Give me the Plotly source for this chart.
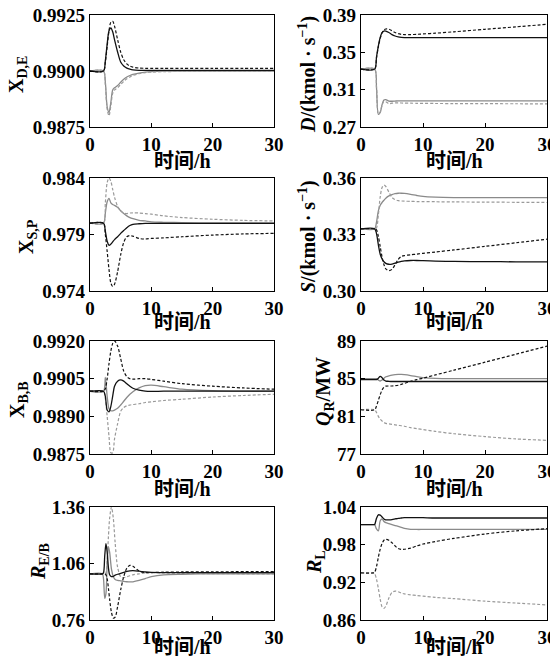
import plotly.graph_objects as go
from plotly.subplots import make_subplots

# ---------------- data ----------------
T = [0, 2.2, 2.5, 2.8, 3.1, 3.4, 3.7, 4.0, 4.5, 5.0, 5.5, 6.0, 6.5, 7.0, 8, 9, 10, 12, 15, 20, 25, 30]

XDE_black_solid = [0.9900, 0.9900, 0.99045, 0.99120, 0.99180, 0.99192, 0.99175, 0.99140, 0.99085, 0.99040, 0.99022, 0.99013, 0.99008, 0.99005, 0.99003, 0.99003, 0.99003, 0.99003, 0.99003, 0.99003, 0.99003, 0.99003]
XDE_black_dash = [0.9900, 0.9900, 0.99040, 0.99110, 0.99180, 0.99218, 0.99222, 0.99200, 0.99140, 0.99085, 0.99050, 0.99032, 0.99022, 0.99017, 0.99013, 0.99012, 0.99012, 0.99012, 0.99012, 0.99012, 0.99012, 0.99012]
XDE_gray_solid = [0.9900, 0.9900, 0.98950, 0.98840, 0.98815, 0.98860, 0.98915, 0.98925, 0.98935, 0.98950, 0.98963, 0.98973, 0.98980, 0.98985, 0.98991, 0.98995, 0.98997, 0.98999, 0.99000, 0.99000, 0.99000, 0.99000]
XDE_gray_dash = [0.9900, 0.9900, 0.98940, 0.98830, 0.98800, 0.98845, 0.98900, 0.98915, 0.98925, 0.98940, 0.98953, 0.98965, 0.98973, 0.98980, 0.98988, 0.98993, 0.98995, 0.98997, 0.98998, 0.98998, 0.98998, 0.98998]

D_black_solid = [0.332, 0.332, 0.345, 0.357, 0.366, 0.371, 0.3728, 0.3728, 0.3712, 0.3690, 0.3675, 0.3665, 0.3660, 0.3658, 0.3657, 0.3657, 0.3657, 0.3657, 0.3657, 0.3657, 0.3657, 0.3657]
D_black_dash = [0.332, 0.332, 0.344, 0.356, 0.365, 0.371, 0.374, 0.375, 0.3748, 0.3730, 0.3712, 0.3700, 0.3693, 0.3690, 0.3690, 0.3693, 0.3697, 0.3705, 0.3720, 0.3747, 0.3773, 0.3800]
D_gray_solid = [0.332, 0.332, 0.312, 0.2835, 0.2855, 0.294, 0.299, 0.2993, 0.2978, 0.2976, 0.2978, 0.2980, 0.2980, 0.2980, 0.2980, 0.2980, 0.2980, 0.2980, 0.2980, 0.2980, 0.2980, 0.2980]
D_gray_dash = [0.332, 0.332, 0.313, 0.2840, 0.2860, 0.2935, 0.2975, 0.2970, 0.2950, 0.2955, 0.2958, 0.2958, 0.2957, 0.2956, 0.2955, 0.2954, 0.2953, 0.2952, 0.2951, 0.2950, 0.2949, 0.2948]

XSP_black_solid = [0.9800, 0.9800, 0.9793, 0.9784, 0.97805, 0.97815, 0.97835, 0.97855, 0.9788, 0.9791, 0.97935, 0.9796, 0.9798, 0.9799, 0.97995, 0.97998, 0.97998, 0.97998, 0.97998, 0.97998, 0.97998, 0.97998]
XSP_black_dash = [0.9800, 0.9800, 0.9790, 0.9775, 0.9759, 0.9747, 0.9744, 0.9746, 0.9757, 0.9772, 0.9783, 0.9788, 0.9789, 0.97885, 0.97865, 0.9786, 0.97865, 0.9787, 0.9788, 0.97895, 0.97905, 0.9791]
XSP_gray_solid = [0.9800, 0.9800, 0.9809, 0.9819, 0.9822, 0.9818, 0.98165, 0.98158, 0.9814, 0.9811, 0.98085, 0.98065, 0.9805, 0.9804, 0.98025, 0.9802, 0.98012, 0.98008, 0.98005, 0.98003, 0.98002, 0.98002]
XSP_gray_dash = [0.9800, 0.9800, 0.9818, 0.9836, 0.9840, 0.9837, 0.9830, 0.9823, 0.9815, 0.9811, 0.9809, 0.98085, 0.9809, 0.98092, 0.9809, 0.98085, 0.9808, 0.98065, 0.9805, 0.98035, 0.98025, 0.9802]

S_black_solid = [0.333, 0.333, 0.3305, 0.3245, 0.3195, 0.3170, 0.3155, 0.3147, 0.3142, 0.3143, 0.3148, 0.3153, 0.3157, 0.3160, 0.3162, 0.3162, 0.3161, 0.3159, 0.3157, 0.3156, 0.3155, 0.3155]
S_black_dash = [0.333, 0.333, 0.3325, 0.3290, 0.3235, 0.3180, 0.3140, 0.3117, 0.3108, 0.3115, 0.3140, 0.3168, 0.3183, 0.3188, 0.3192, 0.3196, 0.3200, 0.3207, 0.3218, 0.3237, 0.3256, 0.3275]
S_gray_solid = [0.333, 0.333, 0.3365, 0.3425, 0.3455, 0.3470, 0.3482, 0.3493, 0.3505, 0.3512, 0.3517, 0.3519, 0.3519, 0.3518, 0.3513, 0.3507, 0.3502, 0.3498, 0.3496, 0.3496, 0.3496, 0.3496]
S_gray_dash = [0.333, 0.333, 0.3335, 0.3405, 0.3500, 0.3550, 0.3562, 0.3555, 0.3525, 0.3497, 0.3485, 0.3480, 0.3478, 0.3477, 0.3476, 0.3475, 0.3475, 0.3474, 0.3473, 0.3472, 0.3471, 0.3470]

XBB_black_solid = [0.9900, 0.9900, 0.9898, 0.98925, 0.98918, 0.9894, 0.9898, 0.9902, 0.99040, 0.99045, 0.99040, 0.99030, 0.99020, 0.99012, 0.99004, 0.99000, 0.98999, 0.99000, 0.99000, 0.99000, 0.99000, 0.99000]
XBB_black_dash = [0.9900, 0.9900, 0.9901, 0.9905, 0.9911, 0.9916, 0.9919, 0.9920, 0.9918, 0.9913, 0.9908, 0.99058, 0.99050, 0.99048, 0.99050, 0.99050, 0.99047, 0.99040, 0.99030, 0.99020, 0.99013, 0.99008]
XBB_gray_solid = [0.9900, 0.9900, 0.99055, 0.9898, 0.9893, 0.98922, 0.98922, 0.98925, 0.98932, 0.98945, 0.98960, 0.98975, 0.98988, 0.98998, 0.99013, 0.99022, 0.99024, 0.99018, 0.99008, 0.99002, 0.99000, 0.99000]
XBB_gray_dash = [0.9900, 0.9900, 0.9897, 0.9890, 0.9882, 0.98755, 0.98755, 0.9881, 0.9887, 0.9892, 0.98935, 0.98942, 0.98945, 0.98947, 0.98950, 0.98955, 0.98958, 0.98963, 0.98968, 0.98977, 0.98983, 0.98988]

QR_black_solid = [84.9, 84.9, 84.9, 85.05, 85.25, 85.1, 84.85, 84.75, 84.72, 84.70, 84.70, 84.70, 84.70, 84.70, 84.70, 84.70, 84.70, 84.70, 84.70, 84.70, 84.70, 84.70]
QR_black_dash = [81.7, 81.7, 82.1, 82.7, 83.3, 83.8, 84.1, 84.2, 84.22, 84.22, 84.25, 84.3, 84.4, 84.5, 84.72, 84.9, 85.05, 85.4, 85.9, 86.75, 87.6, 88.45]
QR_gray_solid = [85.0, 85.0, 85.0, 84.85, 84.75, 84.85, 85.05, 85.2, 85.3, 85.38, 85.43, 85.45, 85.45, 85.42, 85.33, 85.22, 85.12, 85.03, 85.0, 85.0, 85.0, 85.0]
QR_gray_dash = [81.7, 81.7, 81.4, 81.0, 80.7, 80.5, 80.35, 80.25, 80.2, 80.15, 80.1, 80.05, 80.0, 79.95, 79.8, 79.7, 79.6, 79.4, 79.15, 78.85, 78.6, 78.45]

T_REB = [0, 2.0, 2.2, 2.4, 2.6, 2.8, 3.0, 3.2, 3.5, 3.8, 4.1, 4.5, 5.0, 5.5, 6.0, 6.5, 7.0, 8.0, 9.0, 10, 12, 15, 20, 30]
REB_black_solid = [1.005, 1.005, 1.01, 1.10, 1.165, 1.12, 1.04, 1.00, 0.99, 0.992, 0.998, 1.003, 1.008, 1.013, 1.018, 1.021, 1.022, 1.019, 1.015, 1.013, 1.012, 1.012, 1.012, 1.012]
REB_black_dash = [1.005, 1.005, 1.005, 1.005, 1.0, 0.98, 0.93, 0.87, 0.80, 0.77, 0.775, 0.83, 0.92, 0.99, 1.035, 1.05, 1.045, 1.02, 1.012, 1.012, 1.014, 1.015, 1.016, 1.017]
REB_gray_solid = [1.005, 1.005, 0.98, 0.875, 0.90, 1.06, 1.15, 1.12, 1.03, 0.99, 0.975, 0.97, 0.968, 0.965, 0.963, 0.962, 0.963, 0.970, 0.980, 0.990, 1.000, 1.003, 1.005, 1.005]
REB_gray_dash = [1.005, 1.005, 1.005, 1.005, 1.01, 1.08, 1.20, 1.30, 1.36, 1.30, 1.17, 1.04, 0.99, 0.985, 0.99, 0.995, 1.0, 1.005, 1.01, 1.012, 1.01, 1.008, 1.006, 1.005]

T_RL = [0, 2.0, 2.2, 2.5, 2.8, 3.1, 3.4, 3.7, 4.0, 4.5, 5.0, 5.5, 6.0, 6.5, 7.0, 8, 9, 10, 12, 15, 20, 25, 30]
RL_black_solid = [1.012, 1.012, 1.012, 1.022, 1.0275, 1.027, 1.024, 1.021, 1.0195, 1.0195, 1.020, 1.021, 1.022, 1.0225, 1.023, 1.0232, 1.0232, 1.023, 1.0225, 1.0225, 1.0225, 1.0225, 1.0225]
RL_black_dash = [0.935, 0.935, 0.936, 0.945, 0.960, 0.973, 0.982, 0.987, 0.9885, 0.987, 0.983, 0.978, 0.974, 0.9725, 0.9727, 0.9745, 0.978, 0.981, 0.985, 0.990, 0.997, 1.002, 1.0055]
RL_gray_solid = [1.012, 1.012, 1.012, 1.005, 1.002, 1.018, 1.021, 1.017, 1.015, 1.0135, 1.012, 1.0105, 1.009, 1.0075, 1.006, 1.0045, 1.0042, 1.0042, 1.0042, 1.0043, 1.0044, 1.0045, 1.0045]
RL_gray_dash = [0.935, 0.935, 0.934, 0.925, 0.910, 0.893, 0.881, 0.8785, 0.882, 0.895, 0.904, 0.906, 0.905, 0.903, 0.9015, 0.900, 0.899, 0.898, 0.896, 0.894, 0.890, 0.887, 0.884]

X_TICKS = [0, 10, 20, 30]
XDE_ticks = [0.9875, 0.9900, 0.9925]
XDE_labels = ["0.9875", "0.9900", "0.9925"]
D_ticks = [0.27, 0.31, 0.35, 0.39]
D_labels = ["0.27", "0.31", "0.35", "0.39"]
XSP_ticks = [0.974, 0.979, 0.984]
XSP_labels = ["0.974", "0.979", "0.984"]
S_ticks = [0.30, 0.33, 0.36]
S_labels = ["0.30", "0.33", "0.36"]
XBB_ticks = [0.9875, 0.9890, 0.9905, 0.9920]
XBB_labels = ["0.9875", "0.9890", "0.9905", "0.9920"]
QR_ticks = [77, 81, 85, 89]
QR_labels = ["77", "81", "85", "89"]
REB_ticks = [0.76, 1.06, 1.36]
REB_labels = ["0.76", "1.06", "1.36"]
RL_ticks = [0.86, 0.92, 0.98, 1.04]
RL_labels = ["0.86", "0.92", "0.98", "1.04"]

X_TITLE = "时间/h"

# ---------------- figure ----------------
OFF = 8  # default page body margin
W, H = 558 - OFF, 661 - OFF
SERIF = "Liberation Serif, Noto Sans CJK SC, serif"
BLACK = "#111111"
GRAY = "#8a8a8a"
GRAY_D = "#9a9a9a"

fig = make_subplots(rows=4, cols=2)

panels = [
    (1, 1, T, [XDE_black_solid, XDE_black_dash, XDE_gray_solid, XDE_gray_dash], XDE_ticks, XDE_labels,
     "X<sub>D,E</sub>", (18, 75)),
    (1, 2, T, [D_black_solid, D_black_dash, D_gray_solid, D_gray_dash], D_ticks, D_labels,
     "<i>D</i>/(kmol · s<sup>−1</sup>)", (308, 75)),
    (2, 1, T, [XSP_black_solid, XSP_black_dash, XSP_gray_solid, XSP_gray_dash], XSP_ticks, XSP_labels,
     "X<sub>S,P</sub>", (28, 237)),
    (2, 2, T, [S_black_solid, S_black_dash, S_gray_solid, S_gray_dash], S_ticks, S_labels,
     "<i>S</i>/(kmol · s<sup>−1</sup>)", (308, 237)),
    (3, 1, T, [XBB_black_solid, XBB_black_dash, XBB_gray_solid, XBB_gray_dash], XBB_ticks, XBB_labels,
     "X<sub>B,B</sub>", (18, 400)),
    (3, 2, T, [QR_black_solid, QR_black_dash, QR_gray_solid, QR_gray_dash], QR_ticks, QR_labels,
     "<i>Q</i><sub>R</sub>/MW", (324, 392)),
    (4, 1, T_REB, [REB_black_solid, REB_black_dash, REB_gray_solid, REB_gray_dash], REB_ticks, REB_labels,
     "<i>R</i><sub>E/B</sub>", (39, 562)),
    (4, 2, T_RL, [RL_black_solid, RL_black_dash, RL_gray_solid, RL_gray_dash], RL_ticks, RL_labels,
     "<i>R</i><sub>L</sub>", (315, 562)),
]

col_px = {1: (90, 274), 2: (361, 547)}
row_px = {1: (15, 127), 2: (178, 291), 3: (341, 454), 4: (507, 620)}
xtitle_y = {1: 161, 2: 322, 3: 489, 4: 647}

styles = [
    dict(color=BLACK, width=1.3, dash="solid"),
    dict(color=BLACK, width=1.2, dash="3px,2px"),
    dict(color=GRAY, width=1.3, dash="solid"),
    dict(color=GRAY_D, width=1.2, dash="3px,2px"),
]
draw_order = [2, 3, 1, 0]


def px(x):
    return (x - OFF) / W


def py(y):
    return 1 - (y - OFF) / H


annotations = []
for idx, (r, c, t, series, ticks, labels, title, tpos) in enumerate(panels):
    for k in draw_order:
        fig.add_trace(go.Scatter(x=t, y=series[k], mode="lines",
                                 line=dict(shape="spline", smoothing=0.8, **styles[k]),
                                 showlegend=False, hoverinfo="skip"), row=r, col=c)
    n = idx + 1
    xa = "xaxis" if n == 1 else f"xaxis{n}"
    ya = "yaxis" if n == 1 else f"yaxis{n}"
    x0, x1 = col_px[c]
    y0, y1 = row_px[r]
    common = dict(showline=True, linecolor="black", linewidth=1.2, mirror=True,
                  ticks="inside", ticklen=4, tickwidth=1, tickcolor="black",
                  showgrid=False, zeroline=False, automargin=False, ticklabeloverflow="allow",
                  tickfont=dict(family=SERIF, size=19, color="black", weight="bold"))
    fig.layout[xa].update(domain=[px(x0), px(x1)], range=[0, 30], tickmode="array",
                          tickvals=X_TICKS, ticktext=[str(v) for v in X_TICKS], **common)
    fig.layout[ya].update(domain=[py(y1), py(y0)], range=[ticks[0], ticks[-1]],
                          tickmode="array", tickvals=ticks, ticktext=labels, **common)
    annotations.append(dict(text=title, x=px(tpos[0]), y=py(tpos[1]), xref="paper", yref="paper",
                            textangle=-90, showarrow=False, xanchor="center", yanchor="middle",
                            font=dict(family=SERIF, size=20, color="black", weight="bold")))
    annotations.append(dict(text=X_TITLE, x=px((x0 + x1) / 2), y=py(xtitle_y[r]), xref="paper", yref="paper",
                            showarrow=False, xanchor="center", yanchor="middle",
                            font=dict(family=SERIF, size=20, color="black", weight="bold")))

fig.update_layout(width=W, height=H, margin=dict(l=0, r=0, t=0, b=0),
                  paper_bgcolor="white", plot_bgcolor="white",
                  annotations=annotations, showlegend=False)

fig.write_html("out.html")
